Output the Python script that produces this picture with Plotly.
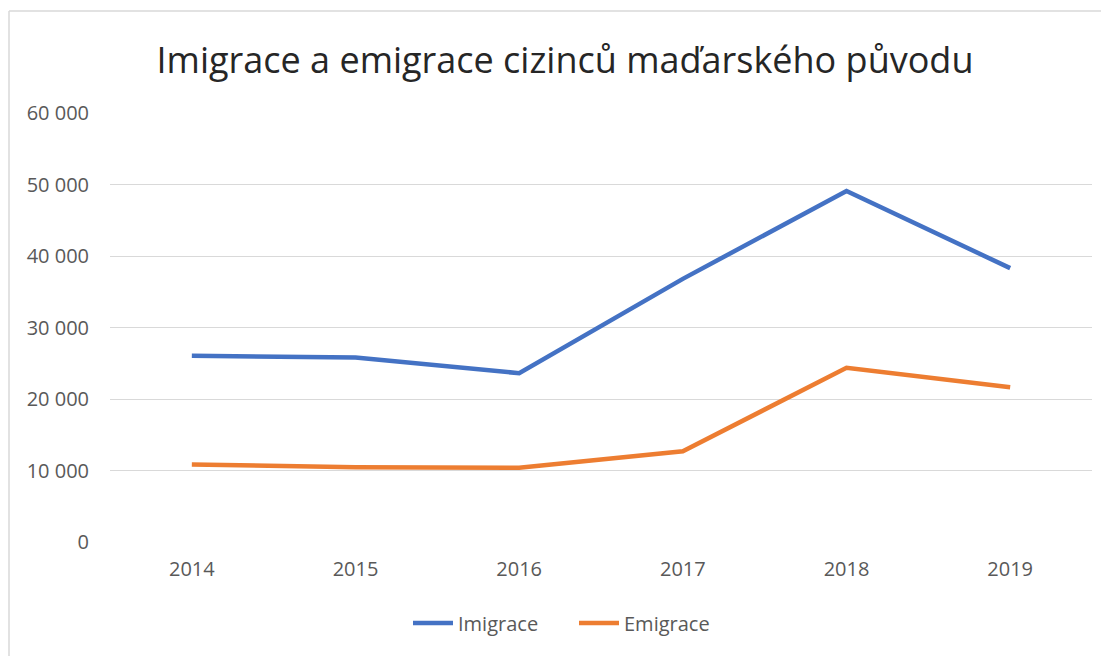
import plotly.graph_objects as go

years = ["2014", "2015", "2016", "2017", "2018", "2019"]
imigrace = [26040, 25800, 23610, 36800, 49100, 38300]
emigrace = [10840, 10470, 10380, 12700, 24360, 21650]
y_ticks = [0, 10000, 20000, 30000, 40000, 50000, 60000]
y_tick_labels = ["0", "10 000", "20 000", "30 000", "40 000", "50 000", "60 000"]

OFF = 8  # page body margin
W, H = 1109 - OFF, 656 - OFF
L, R, T = 110 - OFF, 17, 113 - OFF
B = H - (542 - OFF)
pw, ph = W - L - R, H - T - B

def px_x(p):
    return (p - OFF - L) / pw

def px_y(p):
    return 1 - (p - OFF - T) / ph

fig = go.Figure()
fig.add_trace(go.Scatter(x=years, y=imigrace, mode="lines", name="Imigrace",
                         line=dict(color="#4472C4", width=4.5)))
fig.add_trace(go.Scatter(x=years, y=emigrace, mode="lines", name="Emigrace",
                         line=dict(color="#ED7D31", width=4.5)))

fig.update_layout(
    width=W, height=H,
    margin=dict(l=L, r=R, t=T, b=B),
    paper_bgcolor="white", plot_bgcolor="white",
    font=dict(family="Open Sans", size=20, color="#595959"),
    title=dict(text="Imigrace a emigrace cizinců maďarského původu",
               font=dict(family="Open Sans", size=36, color="#262626"),
               x=(565 - OFF) / W, xref="container", xanchor="center",
               y=1 - (60 - OFF) / H, yref="container", yanchor="middle"),
    showlegend=True,
    legend=dict(orientation="h", x=(574 - OFF) / W, xref="container", xanchor="center",
                y=1 - (623 - OFF) / H, yref="container", yanchor="middle",
                font=dict(size=20, color="#595959"), itemwidth=40,
                entrywidth=111, entrywidthmode="pixels"),
    xaxis=dict(type="category", range=[-0.5, 5.5], showgrid=False,
               showline=False, zeroline=False, ticks="",
               ticklabelstandoff=13),
    yaxis=dict(range=[0, 60000], tickvals=y_ticks, ticktext=y_tick_labels,
               showgrid=True, gridcolor="#D9D9D9", gridwidth=1.3,
               zeroline=False, showline=False, ticks="",
               ticklabelstandoff=20),
    shapes=[
        dict(type="line", xref="paper", yref="paper",
             x0=px_x(9), x1=px_x(9), y0=px_y(11), y1=px_y(700),
             line=dict(color="#D9D9D9", width=1.5)),
        dict(type="line", xref="paper", yref="paper",
             x0=px_x(9), x1=px_x(1200), y0=px_y(11), y1=px_y(11),
             line=dict(color="#D9D9D9", width=1.5)),
    ],
)

fig.write_html("out.html")
